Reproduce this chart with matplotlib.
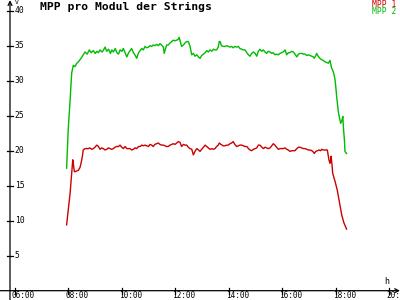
from matplotlib import pyplot as plt

# time of day in hours, values in volts
mpp1_t = [7.93, 7.99, 8.06, 8.12, 8.16, 8.18, 8.22, 8.24, 8.31, 8.37, 8.43, 8.47, 8.52, 8.55, 8.62,
          8.68, 8.74, 8.80, 8.87, 8.93, 8.99, 9.06, 9.12, 9.18, 9.24, 9.30, 9.37, 9.43, 9.49, 9.56,
          9.62, 9.68, 9.74, 9.80, 9.87, 9.93, 9.99, 10.05, 10.12, 10.18, 10.24, 10.30, 10.36, 10.43,
          10.49, 10.55, 10.62, 10.68, 10.74, 10.80, 10.86, 10.92, 10.99, 11.05, 11.11, 11.17, 11.23,
          11.30, 11.36, 11.42, 11.48, 11.55, 11.61, 11.67, 11.73, 11.80, 11.86, 11.92, 11.98, 12.05,
          12.11, 12.17, 12.23, 12.30, 12.36, 12.42, 12.48, 12.54, 12.61, 12.67, 12.73, 12.80, 12.86,
          12.92, 12.98, 13.05, 13.11, 13.17, 13.23, 13.29, 13.36, 13.42, 13.48, 13.54, 13.60, 13.64,
          13.70, 13.79, 13.85, 13.92, 13.98, 14.04, 14.10, 14.16, 14.22, 14.29, 14.35, 14.41, 14.48,
          14.54, 14.60, 14.67, 14.73, 14.79, 14.85, 14.92, 14.98, 15.04, 15.10, 15.16, 15.23, 15.29,
          15.35, 15.41, 15.47, 15.54, 15.60, 15.66, 15.72, 15.78, 15.85, 15.91, 15.97, 16.03, 16.10,
          16.16, 16.22, 16.28, 16.35, 16.41, 16.47, 16.54, 16.60, 16.66, 16.72, 16.78, 16.85, 16.91,
          16.97, 17.03, 17.10, 17.16, 17.19, 17.25, 17.31, 17.37, 17.43, 17.47, 17.53, 17.59, 17.65,
          17.68, 17.74, 17.78, 17.80, 17.82, 17.85, 17.88, 17.97, 18.05, 18.13, 18.22, 18.30, 18.40]
mpp1_v = [9.4, 11.5, 13.9, 16.8, 18.7, 18.2, 17.0, 17.0, 17.1, 17.2, 17.6, 18.2, 19.2, 20.1, 20.3,
          20.3, 20.3, 20.4, 20.2, 20.3, 20.5, 20.8, 20.6, 20.2, 20.4, 20.3, 20.1, 20.2, 20.4, 20.3,
          20.2, 20.3, 20.5, 20.6, 20.6, 20.8, 20.5, 20.3, 20.6, 20.3, 20.3, 20.3, 20.1, 20.2,
          20.4, 20.3, 20.6, 20.6, 20.8, 20.7, 20.8, 20.7, 20.6, 20.9, 20.8, 20.6, 20.9,
          21.0, 21.1, 20.9, 20.8, 20.8, 20.7, 20.6, 20.6, 20.8, 20.9, 21.0, 20.9, 21.1,
          21.3, 21.2, 20.6, 20.9, 20.8, 20.8, 20.5, 20.3, 20.2, 19.4, 19.9, 20.3, 20.1,
          19.9, 20.2, 20.5, 20.8, 20.6, 20.4, 20.2, 20.3, 20.2, 20.3, 20.6, 20.8, 21.1,
          20.9, 20.7, 20.7, 20.8, 20.8, 21.0, 21.1, 21.3, 20.9, 20.6, 20.7, 20.8, 20.8,
          20.7, 20.6, 20.6, 20.3, 20.1, 20.0, 20.2, 20.3, 20.4, 20.8, 20.8, 20.5, 20.3,
          20.5, 20.4, 20.3, 20.4, 20.7, 21.0, 20.8, 20.5, 20.2, 20.3, 20.3, 20.3, 20.4,
          20.2, 20.1, 19.9, 20.0, 20.0, 20.0, 20.3, 20.5, 20.5, 20.4, 20.3, 20.3, 20.2,
          20.1, 20.1, 20.0, 19.8, 19.6, 19.9, 20.0, 20.1, 20.0, 20.2, 20.1, 20.1, 20.1,
          20.1, 18.7, 18.2, 18.6, 19.2, 18.2, 16.8, 15.6, 14.4, 12.7, 10.8, 9.7, 8.8]

mpp2_t = [7.93, 7.99, 8.06, 8.12, 8.18, 8.24, 8.31, 8.37, 8.47, 8.55, 8.62, 8.70, 8.78, 8.85, 8.93,
          9.00, 9.06, 9.12, 9.18, 9.25, 9.30, 9.37, 9.43, 9.50, 9.57, 9.62, 9.68, 9.75, 9.81, 9.87,
          9.93, 10.00, 10.05, 10.12, 10.18, 10.25, 10.36, 10.43, 10.50, 10.55, 10.62, 10.68, 10.74,
          10.80, 10.86, 10.92, 10.99, 11.05, 11.11, 11.17, 11.23, 11.30, 11.36, 11.42, 11.48, 11.55,
          11.58, 11.61, 11.67, 11.73, 11.80, 11.86, 11.92, 11.98, 12.05, 12.10, 12.14, 12.19, 12.23,
          12.30, 12.36, 12.42, 12.48, 12.54, 12.61, 12.67, 12.73, 12.80, 12.86, 12.92, 12.98, 13.05,
          13.11, 13.17, 13.23, 13.29, 13.36, 13.42, 13.48, 13.54, 13.60, 13.64, 13.67, 13.72, 13.79,
          13.85, 13.92, 13.98, 14.04, 14.10, 14.16, 14.22, 14.29, 14.35, 14.41, 14.48, 14.54, 14.60,
          14.67, 14.73, 14.79, 14.85, 14.92, 14.98, 15.04, 15.10, 15.16, 15.23, 15.29, 15.35, 15.41,
          15.47, 15.54, 15.60, 15.66, 15.72, 15.78, 15.85, 15.91, 15.97, 16.03, 16.10, 16.16, 16.22,
          16.28, 16.35, 16.41, 16.47, 16.54, 16.60, 16.66, 16.72, 16.78, 16.85, 16.91, 16.97, 17.03,
          17.10, 17.16, 17.19, 17.25, 17.28, 17.34, 17.40, 17.47, 17.53, 17.59, 17.65, 17.72, 17.78,
          17.84, 17.88, 17.93, 17.97, 18.00, 18.03, 18.06, 18.09, 18.13, 18.18, 18.23, 18.26, 18.28,
          18.32, 18.34, 18.40]
mpp2_v = [17.5, 23.0, 27.2, 31.1, 32.2, 32.0, 32.5, 32.7, 33.2, 33.7, 34.1, 33.8, 34.4, 34.0, 34.3,
          33.9, 34.2, 34.0, 34.4, 34.1, 34.3, 34.8, 34.2, 34.5, 33.9, 34.4, 34.1, 34.6, 34.0, 33.8,
          34.4, 34.2, 34.6, 34.0, 33.4, 34.0, 34.6, 34.0, 33.6, 33.2, 34.0, 34.3, 34.6,
          34.4, 34.9, 34.7, 34.8, 35.0, 34.9, 35.1, 35.0, 35.2, 35.0, 35.3, 35.1, 34.8,
          33.9, 34.3, 35.1, 35.1, 35.4, 35.6, 35.8, 35.7, 35.8, 35.9, 36.2, 35.5, 34.9,
          35.1, 35.4, 35.6, 35.6, 35.0, 33.7, 33.9, 33.5, 33.7, 33.4, 33.2, 33.6, 33.8,
          34.0, 34.3, 34.1, 34.4, 34.2, 34.5, 34.4, 34.4, 34.8, 35.6, 35.6, 35.0, 34.9,
          34.9, 35.0, 34.9, 34.8, 34.9, 34.7, 34.9, 34.8, 34.9, 34.6, 34.5, 34.4, 34.4,
          34.0, 33.7, 33.5, 33.9, 34.1, 33.9, 33.5, 34.2, 34.5, 34.2, 34.4, 34.1, 33.9,
          34.2, 34.1, 33.9, 34.0, 33.7, 33.8, 33.7, 33.9, 34.0, 34.1, 34.4, 33.7, 34.0,
          34.0, 34.2, 34.1, 33.8, 33.4, 33.8, 33.9, 33.9, 33.8, 33.8, 33.6, 33.7, 33.6,
          33.5, 33.4, 33.2, 33.6, 33.9, 33.5, 33.2, 33.0, 32.9, 32.7, 32.6, 32.5, 32.9,
          31.8, 31.5, 30.9, 30.1, 29.0, 27.7, 26.6, 25.6, 24.8, 23.9, 24.4, 24.9, 23.4,
          21.5, 19.9, 19.6]

x_ticks = [6, 8, 10, 12, 14, 16, 18, 20]
x_labels = ["06:00", "08:00", "10:00", "12:00", "14:00", "16:00", "18:00", "20:00"]
y_ticks = [5, 10, 15, 20, 25, 30, 35, 40]

red = "#cc0000"
green = "#00bb00"
mono = "DejaVu Sans Mono"

fig = plt.figure(figsize=(4, 3), dpi=100)
ax = fig.add_axes([0, 0, 1, 1])
ax.set_xlim(5.439, 20.398)
ax.set_ylim(-1.33, 41.53)
y_axis_x = 5.813

ax.plot(mpp1_t, mpp1_v, color=red, lw=1.0)
ax.plot(mpp2_t, mpp2_v, color=green, lw=1.0)

for s in ["top", "right", "left", "bottom"]:
    ax.spines[s].set_visible(False)
ax.set_xticks([])
ax.set_yticks([])

# axis lines with arrows
ax.annotate("", xy=(1.0, 0), xytext=(0.0, 0), xycoords=("axes fraction", "data"),
            arrowprops=dict(arrowstyle="->", color="black", lw=0.9, shrinkA=0, shrinkB=0,
                            mutation_scale=7))
ax.annotate("", xy=(y_axis_x, 41.5), xytext=(y_axis_x, -1.33),
            arrowprops=dict(arrowstyle="->", color="black", lw=0.9, shrinkA=0, shrinkB=0,
                            mutation_scale=7))

# ticks and labels
for t, lab in zip(x_ticks, x_labels):
    ax.plot([t, t], [-0.45, 0.45], color="black", lw=0.9)
    ax.annotate(lab, (t, 0), xytext=(-2.4, -3.3), textcoords="offset points",
                ha="left", va="center", fontsize=5.6, family=mono)
for v in y_ticks:
    ax.plot([y_axis_x - 0.11, y_axis_x + 0.11], [v, v], color="black", lw=0.9)
    ax.annotate(str(v), (y_axis_x, v), xytext=(3.4, 0), textcoords="offset points",
                ha="left", va="center", fontsize=5.8, family=mono)

ax.text(15 / 400, 1 - 0.5 / 300, "V", transform=ax.transAxes, ha="left", va="top",
        fontsize=4.5, family=mono)
ax.text(387 / 400, 1 - 282 / 300, "h", transform=ax.transAxes, ha="center", va="center",
        fontsize=6, family=mono)

ax.text(40 / 400, 1 - 2 / 300, "MPP pro Modul der Strings", transform=ax.transAxes,
        ha="left", va="top", fontsize=8.2, family=mono, weight="bold")
ax.text(396 / 400, 1 - 4.3 / 300, "MPP 1", transform=ax.transAxes, ha="right", va="center",
        fontsize=5.8, family=mono, color=red)
ax.text(396 / 400, 1 - 11.6 / 300, "MPP 2", transform=ax.transAxes, ha="right", va="center",
        fontsize=5.8, family=mono, color=green)

fig.savefig("out.png", dpi=100)
